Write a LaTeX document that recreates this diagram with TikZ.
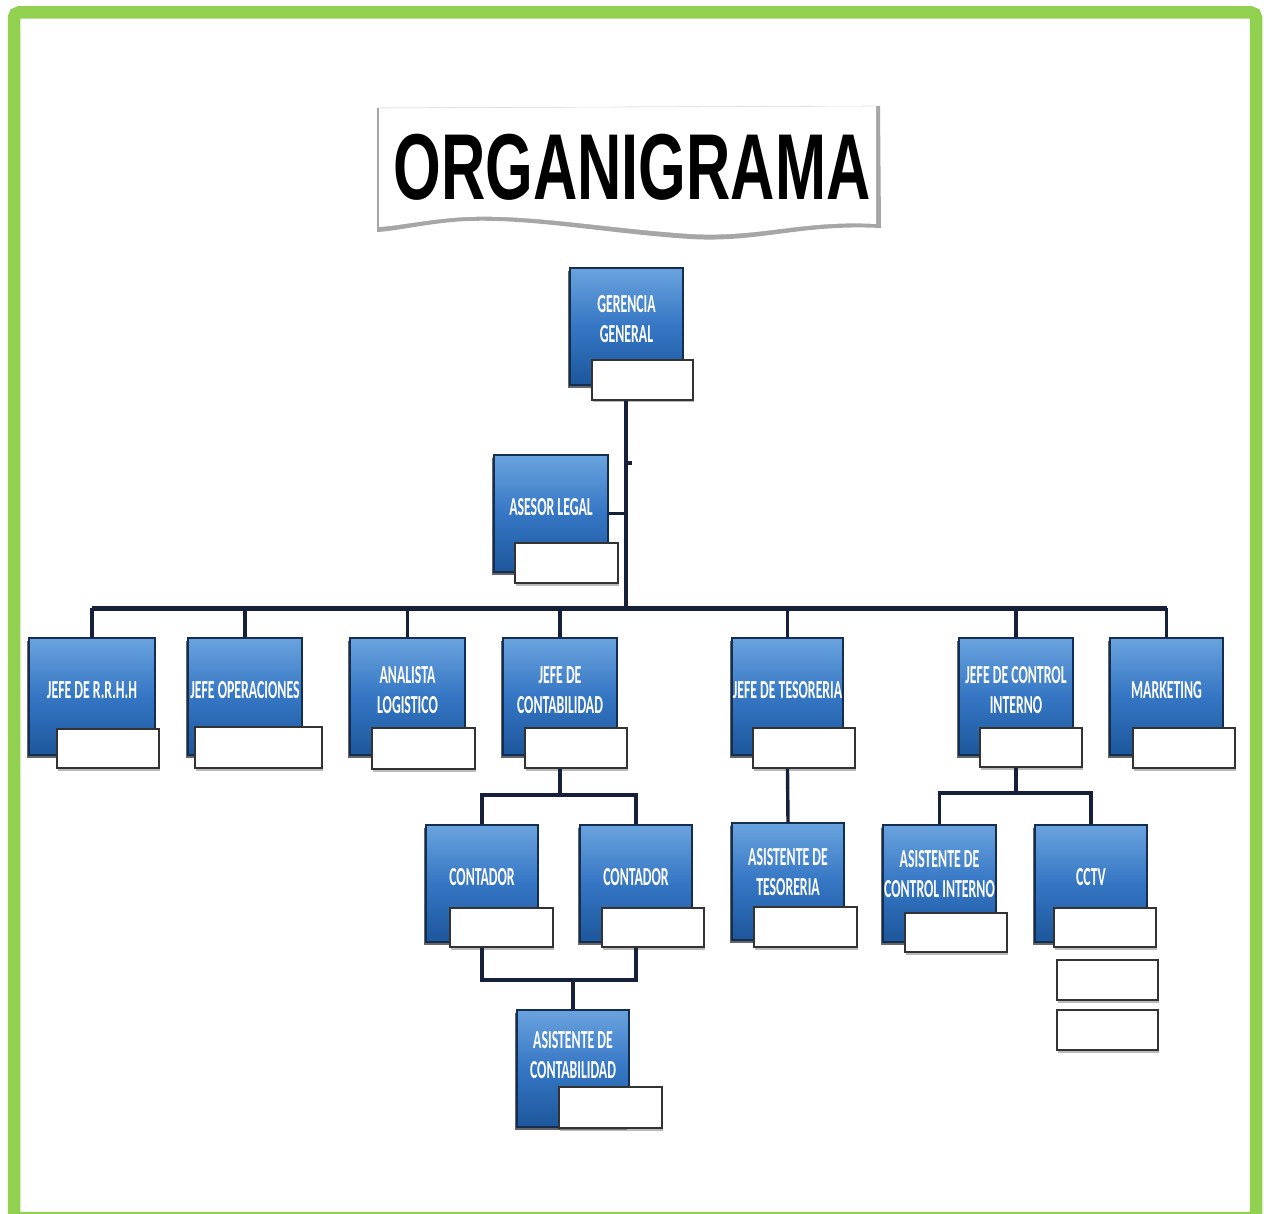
\documentclass[tikz,border=0pt]{standalone}
\usepackage{fontspec}
\usepackage{graphicx}
\usetikzlibrary{shadows,calc}
\newfontfamily\lblfont{Carlito}
\newfontfamily\ttlfont{Liberation Sans}
\definecolor{frameG}{HTML}{92D050}
\definecolor{blueTop}{HTML}{6AA3DE}
\definecolor{blueMid}{HTML}{3576C4}
\definecolor{blueBot}{HTML}{1D579C}
\definecolor{blueEdge}{HTML}{142E52}
\definecolor{lineC}{HTML}{16203A}
\tikzset{
  bluebox/.style={draw=blueEdge, line width=1.2pt, inner sep=0pt, top color=blueTop, bottom color=blueBot, middle color=blueMid,
    drop shadow={shadow xshift=-2.5pt, shadow yshift=-3pt, fill=black!75, opacity=0.8}},
  whitebox/.style={draw=black!80, line width=1.8pt, fill=white, inner sep=0pt,
    drop shadow={shadow xshift=1pt, shadow yshift=-2.5pt, fill=black!45, opacity=0.6}},
  lbl/.style={text=white, inner sep=0pt, align=center, font=\lblfont\bfseries\fontsize{26}{30}\selectfont},
  conn/.style={draw=lineC, line width=3.4pt},
  bar/.style={draw=lineC, line width=5pt},
}
\def\oaOff{54}
\newcommand\obox[9]{%
  \pgfmathsetmacro\oaW{#4-#2}%
  \pgfmathsetmacro\oaX{(#2+#4)/2}%
  \pgfmathsetmacro\oaY{#3+58.5}%
  \pgfmathsetmacro\oaWW{#7-#5}%
  \pgfmathsetmacro\oaWH{#8-#6}%
  \pgfmathsetmacro\oaWX{(#5+#7)/2}%
  \pgfmathsetmacro\oaWY{(#6+#8)/2}%
  \pgfmathsetmacro\oaTY{#3+\oaOff}%
  \node[bluebox, minimum width=\oaW pt, minimum height=117pt] (#1) at (\oaX,\oaY) {};
  \node[lbl] (#1t) at (\oaX,\oaTY) {\scalebox{0.53}[1]{\begin{tabular}{@{}c@{}}#9\end{tabular}}};
  \node[whitebox, minimum width=\oaWW pt, minimum height=\oaWH pt] (#1w) at (\oaWX,\oaWY) {};
}
\begin{document}
\begin{tikzpicture}[x=1pt,y=-1pt]
\useasboundingbox (0,0) rectangle (1264,1214);
\fill[white] (0,0) rectangle (1264,1214);
% green frame
\draw[frameG, line width=12.5pt, rounded corners=5pt] (14,12.5) rectangle (1256,1218);

% title banner
\fill[black!35] (377,108) -- (880,106) -- (881,228)
   .. controls (800,224) and (760,243) .. (690,239)
   .. controls (600,233) and (520,216) .. (452,222)
   .. controls (420,225) and (396,231) .. (377,232) -- cycle;
\fill[white] (379,108) -- (876,106) -- (876,224)
   .. controls (800,220) and (760,238) .. (690,234)
   .. controls (600,228) and (520,212) .. (452,218)
   .. controls (420,221) and (396,226) .. (379,227) -- cycle;
\draw[black!12, line width=0.6pt] (379,108) -- (876,106);
\node[anchor=base, inner sep=0pt, font=\ttlfont\bfseries\fontsize{93.6}{100}\selectfont] (title) at (632,200) {\scalebox{0.655}[1]{ORGANIGRAMA}};

% coordinates for the trunk and bus
\coordinate (bus) at (626,608);
\coordinate (jc) at (560,795);
\coordinate (ja) at (573,980);
\coordinate (ji) at (1016,793);

% boxes: name, x1, y1, x2, wx1, wy1, wx2, wy2, text
\obox{GG}{570}{268}{683}{592}{360}{693}{400}{GERENCIA\\GENERAL}
\obox{AL}{494}{455}{608}{515}{543}{618}{583}{ASESOR LEGAL}
\obox{RRHH}{29}{638}{155}{57}{729}{159}{768}{JEFE DE R.R.H.H}
\obox{OPS}{188}{638}{302}{195}{727}{322}{768}{JEFE OPERACIONES}
\obox{LOG}{350}{638}{465}{372}{728}{475}{769}{ANALISTA\\LOGISTICO}
\obox{CONT}{503}{638}{617}{525}{728}{627}{768}{JEFE DE\\CONTABILIDAD}
\obox{TES}{732}{638}{843}{753}{728}{855}{768}{JEFE DE TESORERIA}
\obox{CI}{959}{638}{1073}{980}{728}{1082}{767}{JEFE DE CONTROL\\INTERNO}
\obox{MKT}{1110}{638}{1223}{1133}{728}{1235}{768}{MARKETING}
\obox{CA}{426}{825}{538}{450}{908}{553}{947}{CONTADOR}
\obox{CB}{580}{825}{692}{602}{908}{704}{947}{CONTADOR}
\def\oaOff{51}
\obox{ATES}{732}{823}{844}{754}{907}{857}{947}{ASISTENTE DE\\TESORERIA}
\obox{ACI}{883}{825}{996}{905}{913}{1007}{952}{ASISTENTE DE\\CONTROL INTERNO}
\def\oaOff{54}
\obox{CCTV}{1035}{825}{1147}{1054}{908}{1156}{947}{CCTV}
\def\oaOff{47}
\obox{ACONT}{517}{1010}{629}{559}{1087}{662}{1128}{ASISTENTE DE\\CONTABILIDAD}
\node[whitebox, minimum width=101pt, minimum height=40pt] (CCTVw2) at (1107.5,980) {};
\node[whitebox, minimum width=101pt, minimum height=40pt] (CCTVw3) at (1107.5,1030) {};

% connectors
\draw[conn] (GGw.south -| bus) -- (bus);
\draw[conn] ($(GGw.south -| bus)!0.3!(bus)$) -- ++(6,0);
\draw[conn] (AL.east) -- (AL.east -| bus);
\draw[bar] (RRHH.north |- bus) -- (MKT.north |- bus);
\foreach \n in {RRHH,OPS,LOG,CONT,TES,CI,MKT}
  \draw[conn] (\n.north |- bus) -- (\n.north);
\draw[conn] (CONTw.south -| CONT) -- (jc);
\draw[conn] (CA.north) |- (jc) -| (CB.north);
\draw[conn] (CAw.south -| CA) |- (ja) -| (CBw.south -| CB);
\draw[conn] (ja) -- (ACONT.north);
\draw[conn] (TESw.south -| TES) -- (ATES.north);
\draw[conn] (CIw.south -| CI) -- (ji);
\draw[conn] (ACI.north) |- (ji) -| (CCTV.north);
\end{tikzpicture}
\end{document}
